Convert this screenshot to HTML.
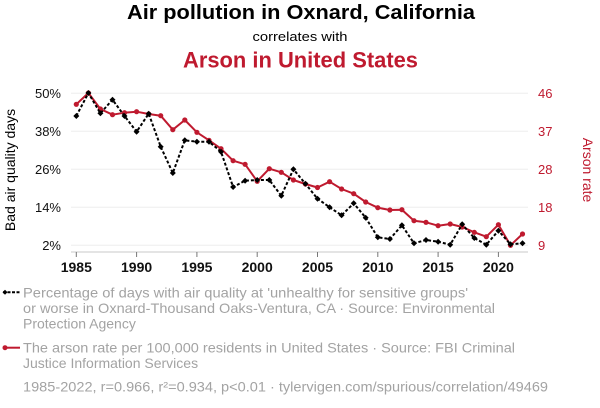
<!DOCTYPE html>
<html><head><meta charset="utf-8"><style>
html,body{margin:0;padding:0;background:#fff;}
svg{display:block;font-family:"Liberation Sans",Arial,sans-serif;}
</style></head><body>
<svg width="600" height="408" viewBox="0 0 600 408" xmlns="http://www.w3.org/2000/svg">
<rect width="600" height="408" fill="#fff"/>
<text x="301" y="19" text-anchor="middle" font-size="20" font-weight="bold" fill="#000" textLength="348" lengthAdjust="spacingAndGlyphs">Air pollution in Oxnard, California</text>
<text x="300" y="41" text-anchor="middle" font-size="13" fill="#000" textLength="95" lengthAdjust="spacingAndGlyphs">correlates with</text>
<text x="300.5" y="67.5" text-anchor="middle" font-size="22" font-weight="bold" fill="#bf1a2f" textLength="235" lengthAdjust="spacingAndGlyphs">Arson in United States</text>

<g stroke="#eeeeee" stroke-width="1">
<line x1="71" x2="528" y1="93.3" y2="93.3"/>
<line x1="71" x2="528" y1="131.3" y2="131.3"/>
<line x1="71" x2="528" y1="169.3" y2="169.3"/>
<line x1="71" x2="528" y1="207.3" y2="207.3"/>
<line x1="71" x2="528" y1="245.3" y2="245.3"/>
</g>
<line x1="71" x2="528" y1="252" y2="252" stroke="#c8c8c8" stroke-width="1"/>
<g stroke="#777" stroke-width="1">
<line x1="76.3" x2="76.3" y1="252" y2="257"/>
<line x1="136.6" x2="136.6" y1="252" y2="257"/>
<line x1="196.9" x2="196.9" y1="252" y2="257"/>
<line x1="257.2" x2="257.2" y1="252" y2="257"/>
<line x1="317.5" x2="317.5" y1="252" y2="257"/>
<line x1="377.8" x2="377.8" y1="252" y2="257"/>
<line x1="438.1" x2="438.1" y1="252" y2="257"/>
<line x1="498.4" x2="498.4" y1="252" y2="257"/>
</g>
<g font-size="14" font-weight="bold" fill="#111" text-anchor="middle">
<text x="76.3" y="272">1985</text>
<text x="136.6" y="272">1990</text>
<text x="196.9" y="272">1995</text>
<text x="257.2" y="272">2000</text>
<text x="317.5" y="272">2005</text>
<text x="377.8" y="272">2010</text>
<text x="438.1" y="272">2015</text>
<text x="498.4" y="272">2020</text>
</g>
<g font-size="13" fill="#111" text-anchor="end">
<text x="61" y="98">50%</text>
<text x="61" y="136">38%</text>
<text x="61" y="174">26%</text>
<text x="61" y="212">14%</text>
<text x="61" y="250">2%</text>
</g>
<g font-size="13" fill="#bf1a2f" text-anchor="start">
<text x="538" y="98">46</text>
<text x="538" y="136">37</text>
<text x="538" y="174">28</text>
<text x="538" y="212">18</text>
<text x="538" y="250">9</text>
</g>
<text transform="translate(15,170) rotate(-90)" text-anchor="middle" font-size="14" fill="#000">Bad air quality days</text>
<text transform="translate(583,170) rotate(90)" text-anchor="middle" font-size="14" fill="#bf1a2f">Arson rate</text>

<!-- red series -->
<polyline fill="none" stroke="#bf1a2f" stroke-width="2" stroke-linejoin="round" points="76.3,104.3 88.4,93 100.4,109 112.5,114.7 124.5,112.7 136.6,111.7 148.7,114 160.7,115.7 172.8,129.7 184.8,120 196.9,132.3 209,140.3 221,148.7 233.1,160.7 245.1,164.3 257.2,181.3 269.3,168.7 281.3,172.3 293.4,180 305.4,184 317.5,187.5 329.6,181.7 341.6,189 353.7,193.7 365.7,202 377.8,207.7 389.9,210 401.9,209.7 414,220.7 426,222.3 438.1,225.7 450.2,224 462.2,227 474.3,232.3 486.3,236.7 498.4,224.7 510.5,245.3 522.5,234"/>
<g fill="#bf1a2f">
<circle cx="76.3" cy="104.3" r="2.6"/><circle cx="88.4" cy="93" r="2.6"/><circle cx="100.4" cy="109" r="2.6"/><circle cx="112.5" cy="114.7" r="2.6"/><circle cx="124.5" cy="112.7" r="2.6"/><circle cx="136.6" cy="111.7" r="2.6"/><circle cx="148.7" cy="114" r="2.6"/><circle cx="160.7" cy="115.7" r="2.6"/><circle cx="172.8" cy="129.7" r="2.6"/><circle cx="184.8" cy="120" r="2.6"/><circle cx="196.9" cy="132.3" r="2.6"/><circle cx="209" cy="140.3" r="2.6"/><circle cx="221" cy="148.7" r="2.6"/><circle cx="233.1" cy="160.7" r="2.6"/><circle cx="245.1" cy="164.3" r="2.6"/><circle cx="257.2" cy="181.3" r="2.6"/><circle cx="269.3" cy="168.7" r="2.6"/><circle cx="281.3" cy="172.3" r="2.6"/><circle cx="293.4" cy="180" r="2.6"/><circle cx="305.4" cy="184" r="2.6"/><circle cx="317.5" cy="187.5" r="2.6"/><circle cx="329.6" cy="181.7" r="2.6"/><circle cx="341.6" cy="189" r="2.6"/><circle cx="353.7" cy="193.7" r="2.6"/><circle cx="365.7" cy="202" r="2.6"/><circle cx="377.8" cy="207.7" r="2.6"/><circle cx="389.9" cy="210" r="2.6"/><circle cx="401.9" cy="209.7" r="2.6"/><circle cx="414" cy="220.7" r="2.6"/><circle cx="426" cy="222.3" r="2.6"/><circle cx="438.1" cy="225.7" r="2.6"/><circle cx="450.2" cy="224" r="2.6"/><circle cx="462.2" cy="227" r="2.6"/><circle cx="474.3" cy="232.3" r="2.6"/><circle cx="486.3" cy="236.7" r="2.6"/><circle cx="498.4" cy="224.7" r="2.6"/><circle cx="510.5" cy="245.3" r="2.6"/><circle cx="522.5" cy="234" r="2.6"/>
</g>

<!-- black series -->
<polyline fill="none" stroke="#000" stroke-width="2" stroke-dasharray="3,2" stroke-linejoin="round" points="76.3,116 88.4,93 100.4,113.3 112.5,99.7 124.5,116 136.6,131.7 148.7,113.7 160.7,146.7 172.8,173 184.8,140.3 196.9,141.7 209,141.7 221,151.7 233.1,187 245.1,180.7 257.2,180 269.3,180 281.3,195.7 293.4,169.3 305.4,183.7 317.5,198.7 329.6,207.3 341.6,215.3 353.7,203.3 365.7,217.7 377.8,237.3 389.9,239 401.9,225.3 414,243.3 426,240 438.1,241.7 450.2,244.7 462.2,224.3 474.3,238 486.3,244.7 498.4,230.7 510.5,244.3 522.5,243.3"/>
<g fill="#000" id="dia">
<path d="M76.3,113 l3,3 l-3,3 l-3,-3z"/><path d="M88.4,90 l3,3 l-3,3 l-3,-3z"/><path d="M100.4,110.3 l3,3 l-3,3 l-3,-3z"/><path d="M112.5,96.7 l3,3 l-3,3 l-3,-3z"/><path d="M124.5,113 l3,3 l-3,3 l-3,-3z"/><path d="M136.6,128.7 l3,3 l-3,3 l-3,-3z"/><path d="M148.7,110.7 l3,3 l-3,3 l-3,-3z"/><path d="M160.7,143.7 l3,3 l-3,3 l-3,-3z"/><path d="M172.8,170 l3,3 l-3,3 l-3,-3z"/><path d="M184.8,137.3 l3,3 l-3,3 l-3,-3z"/><path d="M196.9,138.7 l3,3 l-3,3 l-3,-3z"/><path d="M209,138.7 l3,3 l-3,3 l-3,-3z"/><path d="M221,148.7 l3,3 l-3,3 l-3,-3z"/><path d="M233.1,184 l3,3 l-3,3 l-3,-3z"/><path d="M245.1,177.7 l3,3 l-3,3 l-3,-3z"/><path d="M257.2,177 l3,3 l-3,3 l-3,-3z"/><path d="M269.3,177 l3,3 l-3,3 l-3,-3z"/><path d="M281.3,192.7 l3,3 l-3,3 l-3,-3z"/><path d="M293.4,166.3 l3,3 l-3,3 l-3,-3z"/><path d="M305.4,180.7 l3,3 l-3,3 l-3,-3z"/><path d="M317.5,195.7 l3,3 l-3,3 l-3,-3z"/><path d="M329.6,204.3 l3,3 l-3,3 l-3,-3z"/><path d="M341.6,212.3 l3,3 l-3,3 l-3,-3z"/><path d="M353.7,200.3 l3,3 l-3,3 l-3,-3z"/><path d="M365.7,214.7 l3,3 l-3,3 l-3,-3z"/><path d="M377.8,234.3 l3,3 l-3,3 l-3,-3z"/><path d="M389.9,236 l3,3 l-3,3 l-3,-3z"/><path d="M401.9,222.3 l3,3 l-3,3 l-3,-3z"/><path d="M414,240.3 l3,3 l-3,3 l-3,-3z"/><path d="M426,237 l3,3 l-3,3 l-3,-3z"/><path d="M438.1,238.7 l3,3 l-3,3 l-3,-3z"/><path d="M450.2,241.7 l3,3 l-3,3 l-3,-3z"/><path d="M462.2,221.3 l3,3 l-3,3 l-3,-3z"/><path d="M474.3,235 l3,3 l-3,3 l-3,-3z"/><path d="M486.3,241.7 l3,3 l-3,3 l-3,-3z"/><path d="M498.4,227.7 l3,3 l-3,3 l-3,-3z"/><path d="M510.5,241.3 l3,3 l-3,3 l-3,-3z"/><path d="M522.5,240.3 l3,3 l-3,3 l-3,-3z"/>
</g>

<!-- legend -->
<line x1="3" x2="20" y1="292.3" y2="292.3" stroke="#000" stroke-width="2" stroke-dasharray="3,1.5"/>
<path d="M5,289.8 l2.5,2.5 l-2.5,2.5 l-2.5,-2.5z" fill="#000"/>
<line x1="4" x2="20" y1="347.7" y2="347.7" stroke="#bf1a2f" stroke-width="2"/>
<circle cx="5" cy="347.7" r="2.5" fill="#bf1a2f"/>
<g font-size="14" fill="#a3a3a3">
<text x="23" y="297.3" textLength="445" lengthAdjust="spacingAndGlyphs">Percentage of days with air quality at 'unhealthy for sensitive groups'</text>
<text x="23" y="312.8" textLength="472" lengthAdjust="spacingAndGlyphs">or worse in Oxnard-Thousand Oaks-Ventura, CA · Source: Environmental</text>
<text x="23" y="328.3">Protection Agency</text>
<text x="23" y="352.7" textLength="492" lengthAdjust="spacingAndGlyphs">The arson rate per 100,000 residents in United States · Source: FBI Criminal</text>
<text x="23" y="368.2">Justice Information Services</text>
<text x="23" y="391.7" textLength="525" lengthAdjust="spacingAndGlyphs">1985-2022, r=0.966, r²=0.934, p&lt;0.01 · tylervigen.com/spurious/correlation/49469</text>
</g>
</svg>
</body></html>
